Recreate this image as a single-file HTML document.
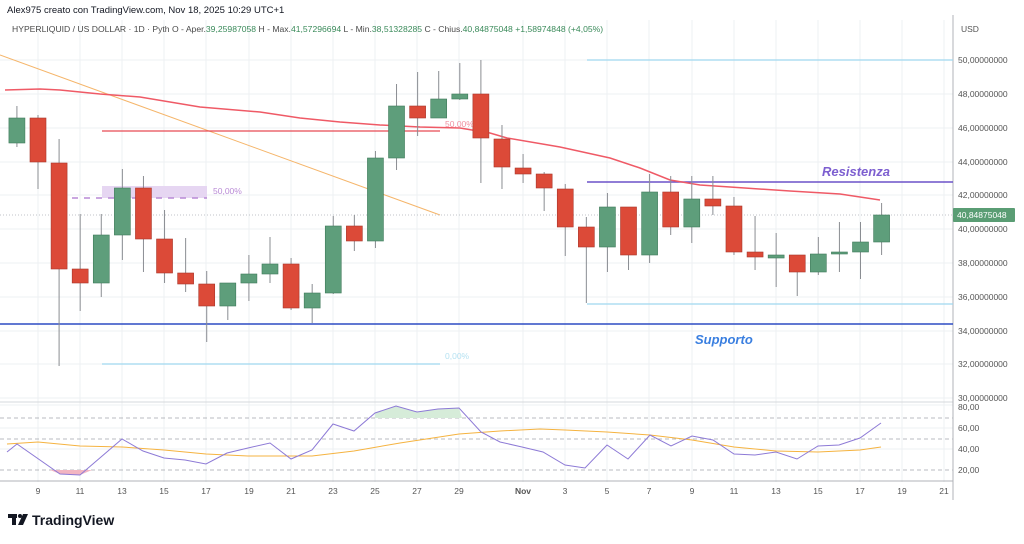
<!DOCTYPE html>
<html><head><meta charset="utf-8"><style>
body{margin:0;background:#fff;width:1024px;height:539px;overflow:hidden;font-family:"Liberation Sans",sans-serif}
</style></head><body>
<svg width="1024" height="539" xmlns="http://www.w3.org/2000/svg" font-family="Liberation Sans, sans-serif">
<rect width="1024" height="539" fill="#fff"/>
<g stroke="#eef0f3" stroke-width="1" id="grid">
<line x1="38" y1="20" x2="38" y2="482"/><line x1="80" y1="20" x2="80" y2="482"/><line x1="122" y1="20" x2="122" y2="482"/><line x1="164" y1="20" x2="164" y2="482"/><line x1="206" y1="20" x2="206" y2="482"/><line x1="249" y1="20" x2="249" y2="482"/><line x1="291" y1="20" x2="291" y2="482"/><line x1="333" y1="20" x2="333" y2="482"/><line x1="375" y1="20" x2="375" y2="482"/><line x1="417" y1="20" x2="417" y2="482"/><line x1="459" y1="20" x2="459" y2="482"/><line x1="523" y1="20" x2="523" y2="482"/><line x1="565" y1="20" x2="565" y2="482"/><line x1="607" y1="20" x2="607" y2="482"/><line x1="649" y1="20" x2="649" y2="482"/><line x1="692" y1="20" x2="692" y2="482"/><line x1="734" y1="20" x2="734" y2="482"/><line x1="776" y1="20" x2="776" y2="482"/><line x1="818" y1="20" x2="818" y2="482"/><line x1="860" y1="20" x2="860" y2="482"/><line x1="902" y1="20" x2="902" y2="482"/><line x1="944" y1="20" x2="944" y2="482"/>
<line x1="0" y1="60" x2="953" y2="60"/><line x1="0" y1="94" x2="953" y2="94"/><line x1="0" y1="128" x2="953" y2="128"/><line x1="0" y1="162" x2="953" y2="162"/><line x1="0" y1="195" x2="953" y2="195"/><line x1="0" y1="229" x2="953" y2="229"/><line x1="0" y1="263" x2="953" y2="263"/><line x1="0" y1="297" x2="953" y2="297"/><line x1="0" y1="331" x2="953" y2="331"/><line x1="0" y1="364" x2="953" y2="364"/><line x1="0" y1="398" x2="953" y2="398"/><line x1="0" y1="405" x2="953" y2="405"/><line x1="0" y1="428" x2="953" y2="428"/><line x1="0" y1="449" x2="953" y2="449"/>
</g>
<text x="7" y="13" font-size="9.5" fill="#131722">Alex975 creato con TradingView.com, Nov 18, 2025 10:29 UTC+1</text>
<text x="12" y="32" font-size="8.6" fill="#4a4a4a">HYPERLIQUID / US DOLLAR · 1D · Pyth  O - Aper.<tspan fill="#3a8a5a">39,25987058</tspan>  H - Max.<tspan fill="#3a8a5a">41,57296694</tspan>  L - Min.<tspan fill="#3a8a5a">38,51328285</tspan>  C - Chius.<tspan fill="#3a8a5a">40,84875048  +1,58974848 (+4,05%)</tspan></text>
<line x1="0" y1="402" x2="953" y2="402" stroke="#d6d8dc"/>
<line x1="953" y1="15" x2="953" y2="500" stroke="#b0b3b8"/>
<line x1="0" y1="481" x2="953" y2="481" stroke="#b0b3b8"/>
<line x1="0" y1="55" x2="440" y2="215" stroke="#f5b56a" stroke-width="1"/>
<rect x="102" y="186" width="105" height="12" fill="#e6d6f2"/>
<line x1="72" y1="198" x2="207" y2="198" stroke="#b98ad6" stroke-width="1.5" stroke-dasharray="6,6"/>
<text x="213" y="194" font-size="8.5" fill="#b98ad6">50,00%</text>
<line x1="102" y1="131" x2="440" y2="131" stroke="#e84a55" stroke-width="1.2"/>
<text x="445" y="127" font-size="8.5" fill="#f090a0">50,00%</text>
<line x1="102" y1="364" x2="440" y2="364" stroke="#9fd8ef" stroke-width="1.2"/>
<text x="445" y="359" font-size="8.5" fill="#b6e2f2">0,00%</text>
<line x1="587" y1="60" x2="953" y2="60" stroke="#9fd8ef" stroke-width="1.2"/>
<line x1="587" y1="304" x2="953" y2="304" stroke="#9fd8ef" stroke-width="1.2"/>
<line x1="587" y1="182" x2="953" y2="182" stroke="#6b52c8" stroke-width="1.5"/>
<text x="822" y="176" font-size="13" font-style="italic" font-weight="bold" fill="#7d5fd0">Resistenza</text>
<line x1="0" y1="324" x2="953" y2="324" stroke="#2d4bc4" stroke-width="1.5"/>
<text x="695" y="344" font-size="13" font-style="italic" font-weight="bold" fill="#3a7fe0">Supporto</text>
<line x1="0" y1="215" x2="953" y2="215" stroke="#c0c3c8" stroke-dasharray="1,2"/>
<polyline fill="none" stroke="#ef5a66" stroke-width="1.5" points="5,90 40,89 60,90 100,94 140,97 200,107 260,112 300,118 340,122 380,125 420,127 460,128 490,133 507,138 560,147 610,158 640,168 670,180 700,185 730,187 790,191 840,194 880,200"/>
<g id="candles" stroke-width="1"></g>
<g stroke="#b8bbc0" stroke-dasharray="4,3"><line x1="0" y1="418" x2="953" y2="418"/><line x1="0" y1="439" x2="953" y2="439"/><line x1="0" y1="470" x2="953" y2="470"/></g>
<polygon points="50,470 60,474 80,475 92,470" fill="#f2b5c2"/>
<polygon points="375,418 375,413 396,406 417,412 438,409 459,408 462,418" fill="#d6ecd9"/>
<polyline fill="none" stroke="#f5b340" stroke-width="1" points="7,444 38,442 80,446 122,447 164,450 206,454 248,456 290,456 312,456 354,451 400,443 459,434 500,431 540,429 565,430 607,432 650,435 692,440 734,447 776,451 818,452 860,450 881,447"/>
<polyline fill="none" stroke="#8d7ad6" stroke-width="1" points="7,452 17,444 60,474 80,475 122,439 143,451 164,458 185,460 206,464 227,453 248,448 270,443 291,459 312,450 333,424 354,431 375,413 396,406 417,412 438,409 459,408 481,432 500,442 522,447 543,452 565,465 585,468 607,445 628,459 650,435 671,446 692,436 713,440 734,454 755,455 776,452 797,459 818,446 839,445 860,438 881,423"/>
<g font-size="8.5" fill="#555">
<text x="961" y="32">USD</text>
<text x="958" y="63">50,00000000</text><text x="958" y="97">48,00000000</text><text x="958" y="131">46,00000000</text><text x="958" y="165">44,00000000</text><text x="958" y="198">42,00000000</text><text x="958" y="232">40,00000000</text><text x="958" y="266">38,00000000</text><text x="958" y="300">36,00000000</text><text x="958" y="334">34,00000000</text><text x="958" y="367">32,00000000</text><text x="958" y="401">30,00000000</text>
<text x="958" y="410">80,00</text><text x="958" y="431">60,00</text><text x="958" y="452">40,00</text><text x="958" y="473">20,00</text>
</g>
<rect x="953" y="208" width="62" height="14" fill="#5a9d74" rx="1"/>
<text x="957" y="218" font-size="8.5" fill="#fff">40,84875048</text>
<g font-size="8.5" fill="#555" text-anchor="middle">
<text x="38" y="494">9</text><text x="80" y="494">11</text><text x="122" y="494">13</text><text x="164" y="494">15</text><text x="206" y="494">17</text><text x="249" y="494">19</text><text x="291" y="494">21</text><text x="333" y="494">23</text><text x="375" y="494">25</text><text x="417" y="494">27</text><text x="459" y="494">29</text><text x="523" y="494" font-weight="bold">Nov</text><text x="565" y="494">3</text><text x="607" y="494">5</text><text x="649" y="494">7</text><text x="692" y="494">9</text><text x="734" y="494">11</text><text x="776" y="494">13</text><text x="818" y="494">15</text><text x="860" y="494">17</text><text x="902" y="494">19</text><text x="944" y="494">21</text>
</g>
<g fill="#131722"><rect x="8" y="514" width="9" height="4"/><rect x="12" y="514" width="4" height="11"/><circle cx="20" cy="516" r="2"/><polygon points="23,514 28,514 23,525 18,525"/></g>
<text x="32" y="525" font-size="14" font-weight="bold" fill="#131722">TradingView</text>
</svg>
<script>
var d=[[0,'G',118,143,106,147],[1,'R',118,162,115,189],[2,'R',163,269,139,366],[3,'R',269,283,214,311],[4,'G',235,283,214,297],[5,'G',188,235,169,260],[6,'R',188,239,176,272],[7,'R',239,273,210,283],[8,'R',273,284,238,292],[9,'R',284,306,271,342],[10,'G',283,306,283,320],[11,'G',274,283,255,301],[12,'G',264,274,237,283],[13,'R',264,308,258,310],[14,'G',293,308,284,323],[15,'G',226,293,216,294],[16,'R',226,241,215,251],[17,'G',158,241,151,248],[18,'G',106,158,84,170],[19,'R',106,118,72,136],[20,'G',99,118,71,118],[21,'G',94,99,63,100],[22,'R',94,138,60,183],[23,'R',139,167,125,189],[24,'R',168,174,154,183],[25,'R',174,188,172,211],[26,'R',189,227,184,256],[27,'R',227,247,217,303],[28,'G',207,247,193,272],[29,'R',207,255,207,270],[30,'G',192,255,174,263],[31,'R',192,227,176,235],[32,'G',199,227,176,243],[33,'R',199,206,176,215],[34,'R',206,252,197,255],[35,'R',252,257,216,270],[36,'G',255,258,233,287],[37,'R',255,272,255,296],[38,'G',254,272,237,275],[39,'G',252,254,222,272],[40,'G',242,252,222,279],[41,'G',215,242,203,255]];
var g=document.getElementById('candles'),s='';
d.forEach(function(c){var x=38+21.09*(c[0]-1);var col=c[1]=='G'?'#5e9e7b':'#dc4a38';var st=c[1]=='G'?'#3f7a5a':'#a8362a';
s+='<line x1="'+x+'" y1="'+c[4]+'" x2="'+x+'" y2="'+c[5]+'" stroke="#8a8d92"/>';
s+='<rect x="'+(x-8)+'" y="'+c[2]+'" width="16" height="'+Math.max(2,c[3]-c[2])+'" fill="'+col+'" stroke="'+st+'" stroke-width="0.6"/>';});
g.innerHTML=s;
</script>
</body></html>
